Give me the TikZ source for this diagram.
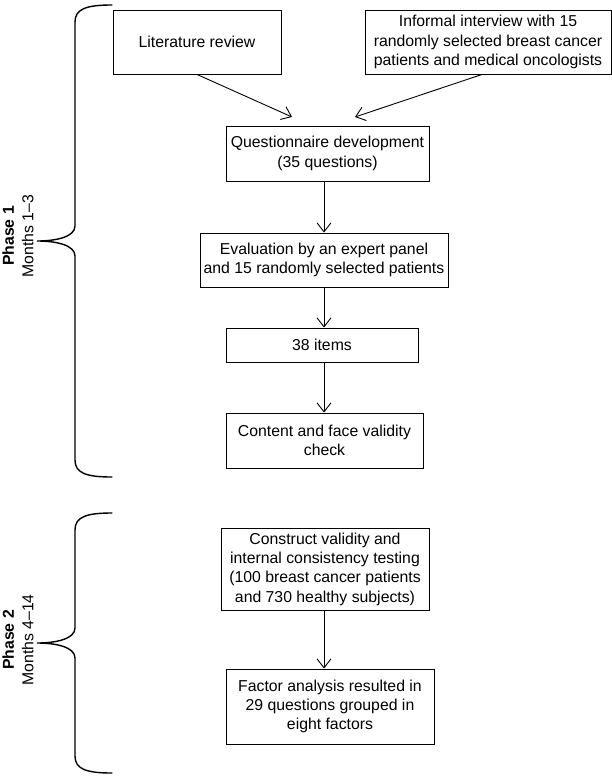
\documentclass[tikz,border=0pt]{standalone}
\usepackage{fontspec}
\setmainfont{Liberation Sans}
\usetikzlibrary{arrows.meta,calc}
\tikzset{
  box/.style={draw, line width=0.9pt, align=center, inner sep=0pt,
    font=\fontsize{15.8pt}{19.3pt}\selectfont},
  arr/.style={line width=0.9pt, -{Straight Barb[length=9pt,width=14pt,line width=0.9pt]}},
  brace/.style={line width=1.4pt, line cap=round},
  phase/.style={rotate=90, align=center, inner sep=0pt,
    font=\fontsize{15.8pt}{19.5pt}\selectfont}
}
\begin{document}
\begin{tikzpicture}[x=1pt,y=-1pt]
\useasboundingbox (0,0) rectangle (612,777);
% boxes
\node[box, minimum width=168pt, minimum height=64pt] (lit) at (197,42) {Literature review};
\node[box, minimum width=246pt, minimum height=64pt] (inter) at (488,42) {Informal interview with 15\\randomly selected breast cancer\\patients and medical oncologists};
\node[box, minimum width=203pt, minimum height=55pt] (quest) at (327.5,153.5) {Questionnaire development\\(35 questions)};
\node[box, minimum width=248pt, minimum height=54pt] (eval) at (324,260) {Evaluation by an expert panel\\and 15 randomly selected patients};
\node[box, minimum width=192pt, minimum height=34pt] (items) at (322,345) {38 items};
\node[box, minimum width=197pt, minimum height=55pt] (content) at (324.5,440.5) {Content and face validity\\check};
\node[box, minimum width=208pt, minimum height=82pt] (construct) at (325,569) {Construct validity and\\internal consistency testing\\(100 breast cancer patients\\and 730 healthy subjects)};
\node[box, minimum width=208pt, minimum height=75pt] (factor) at (330,706.5) {Factor analysis resulted in\\29 questions grouped in\\eight factors};
% connectors
\coordinate (qa) at (292,117);
\coordinate (qb) at (355,117);
\draw[arr] (lit.south) -- (qa);
\draw[arr] ([xshift=-6pt]inter.south) -- (qb);
\draw[arr] (eval.north |- quest.south) -- (eval.north);
\draw[arr] (eval.south) -- (eval.south |- items.north);
\draw[arr] (eval.south |- items.south) -- (eval.south |- content.north);
\draw[arr] (eval.south |- construct.south) -- (eval.south |- factor.north);
% braces
\draw[brace] (112,5) .. controls (86,5) and (75,9) .. (75,22) -- (75,226)
  .. controls (75,237) and (56,241) .. (37,241)
  .. controls (56,241) and (75,245) .. (75,256) -- (75,460)
  .. controls (75,473) and (86,477) .. (112,477);
\draw[brace] (112,513) .. controls (86,513) and (75,517) .. (75,530) -- (75,628)
  .. controls (75,639) and (56,643) .. (37,643)
  .. controls (56,643) and (75,647) .. (75,658) -- (75,756)
  .. controls (75,769) and (86,773) .. (112,773);
% phase labels
\node[phase] (p1) at (18,236) {\textbf{Phase 1}\\Months 1--3};
\node[phase] (p2) at (18,640) {\textbf{Phase 2}\\Months 4--14};
\end{tikzpicture}
\end{document}
